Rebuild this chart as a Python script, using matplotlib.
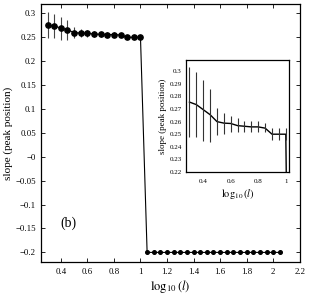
import matplotlib
matplotlib.use('Agg')
import matplotlib.pyplot as plt
import matplotlib.ticker as mticker
import numpy as np

plt.rcParams['font.family'] = ['Liberation Serif', 'DejaVu Serif']
plt.rcParams['mathtext.fontset'] = 'stix'

# log10(l) positions
x_top = [0.30, 0.35, 0.40, 0.45, 0.50, 0.55, 0.60, 0.65, 0.70, 0.75,
         0.80, 0.85, 0.90, 0.95, 1.00]
y_top = [0.2755, 0.2735, 0.2695, 0.2655, 0.2600, 0.2588, 0.2585, 0.2568,
         0.2563, 0.2558, 0.2558, 0.2548, 0.2500, 0.2500, 0.2500]
err_lo = [0.2475, 0.2475, 0.2448, 0.2440, 0.2494, 0.2501, 0.2515, 0.2515,
          0.2515, 0.2515, 0.2515, 0.2520, 0.2455, 0.2455, 0.2455]
err_hi = [0.3032, 0.2995, 0.2934, 0.2862, 0.2707, 0.2667, 0.2648, 0.2627,
          0.2606, 0.2606, 0.2606, 0.2590, 0.2549, 0.2549, 0.2549]

x_bot = [1.05, 1.10, 1.15, 1.20, 1.25, 1.30, 1.35, 1.40, 1.45, 1.50, 1.55,
         1.60, 1.65, 1.70, 1.75, 1.80, 1.85, 1.90, 1.95, 2.00, 2.05]
y_bot = [-0.2] * len(x_bot)

x_all = x_top + x_bot
y_all = y_top + y_bot
yerr = [np.array(y_top) - np.array(err_lo), np.array(err_hi) - np.array(y_top)]

fmt = mticker.FuncFormatter(lambda v, p: ('%g' % round(v, 2)).replace('-', '\u2212'))

fig = plt.figure(figsize=(3.1, 2.95), dpi=100)
ax = fig.add_axes([0.132, 0.112, 0.835, 0.875])

ax.plot(x_all, y_all, color='black', lw=0.8)
ax.errorbar(x_top, y_top, yerr=yerr, fmt='none', ecolor='#444444', elinewidth=0.8, capsize=0)
ax.plot(x_top, y_top, 'o', color='black', ms=3.8)
ax.plot(x_bot, y_bot, 'o', color='black', ms=2.6)

ax.set_xlim(0.25, 2.2)
ax.set_ylim(-0.22, 0.32)
ax.set_xticks(np.arange(0.4, 2.21, 0.2))
ax.set_yticks(np.arange(-0.2, 0.301, 0.05))
ax.xaxis.set_major_formatter(fmt)
ax.yaxis.set_major_formatter(fmt)
ax.tick_params(direction='in', top=True, right=True, labelsize=6.3, length=3, width=0.6)
ax.tick_params(axis='x', pad=4)
for s in ax.spines.values():
    s.set_linewidth(0.9)
ax.set_xlabel(r'$\log_{10}(l)$', fontsize=9, labelpad=2)
ax.set_ylabel('slope (peak position)', fontsize=8, labelpad=2)
ax.text(0.46, -0.14, '(b)', fontsize=10, ha='center', va='center')

# inset
axi = fig.add_axes([0.6, 0.417, 0.333, 0.38])
axi.plot(x_all, y_all, color='black', lw=1.0)
axi.errorbar(x_top, y_top, yerr=yerr, fmt='none', ecolor='#333333', elinewidth=0.8, capsize=0)
axi.set_xlim(0.275, 1.025)
axi.set_ylim(0.22, 0.309)
axi.set_xticks([0.4, 0.6, 0.8, 1.0])
axi.set_yticks(np.arange(0.22, 0.301, 0.01))
axi.xaxis.set_major_formatter(fmt)
axi.yaxis.set_major_formatter(fmt)
axi.tick_params(direction='in', top=False, right=False, length=0, labelsize=5, pad=3)
axi.tick_params(axis='x', pad=5)
for s in axi.spines.values():
    s.set_linewidth(0.9)
axi.set_xlabel(r'$\log_{10}(l)$', fontsize=7.5, labelpad=2)
axi.set_ylabel('slope (peak position)', fontsize=6.5, labelpad=2)

fig.savefig('out.png', dpi=100)
